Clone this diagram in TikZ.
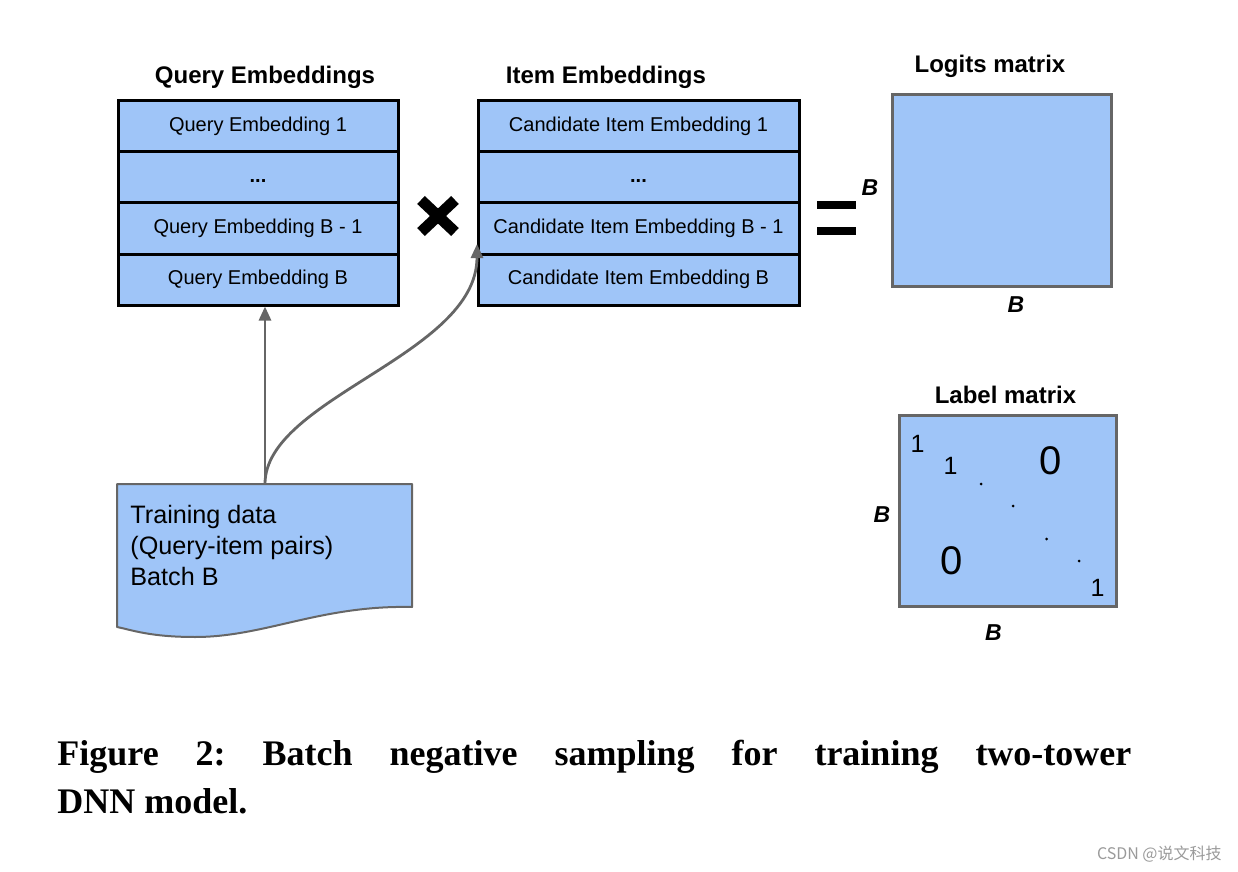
\documentclass[tikz,border=0pt]{standalone}
\usepackage{fontspec}
\setmainfont{Liberation Sans}
\newfontfamily\capfont{Liberation Serif}
\newfontfamily\cjkfont{Noto Sans CJK SC}
\usetikzlibrary{arrows.meta}
\definecolor{cellblue}{HTML}{9FC5F8}
\definecolor{edgegray}{HTML}{666666}
\definecolor{wmgray}{HTML}{9A9A9A}
\begin{document}
\begin{tikzpicture}[x=0.5pt,y=-0.5pt,
  cell/.style={draw=black, line width=1.5pt, inner sep=0, minimum height=25.5pt,
    font=\fontsize{10pt}{12pt}\selectfont},
  qcell/.style={cell, minimum width=140pt},
  icell/.style={cell, minimum width=160.5pt},
  towerfill/.style={fill=cellblue},
  title/.style={font=\bfseries\fontsize{12pt}{14pt}\selectfont, anchor=base, inner sep=0},
  blab/.style={font=\bfseries\itshape\fontsize{11.5pt}{13pt}\selectfont, anchor=base, inner sep=0},
  mat/.style={draw=edgegray, line width=1.5pt, fill=cellblue, inner sep=0},
  entry/.style={anchor=base, inner sep=0, font=\fontsize{12.5pt}{14pt}\selectfont},
  bigentry/.style={anchor=base, inner sep=0, font=\fontsize{20pt}{24pt}\selectfont},
  flow/.style={draw=edgegray, line width=1.4pt, -{Triangle[length=7pt,width=6pt]}},
  doc/.style={draw=edgegray, line width=1pt, fill=cellblue, line join=round},
  times/.style={line width=5.5pt, black},
  eqbar/.style={fill=black},
  dotmark/.style={fill=black},
  captext/.style={anchor=base west, inner sep=0, font=\capfont\bfseries\fontsize{18pt}{22pt}\selectfont},
]
\useasboundingbox (0,0) rectangle (1238,872);

% Query tower
\fill[towerfill] (118,101) rectangle (398,305);
\node[qcell] (q1) at (258,126.5) {Query Embedding 1};
\node[qcell] (q2) at (258,177.5) {\vphantom{Qg}\textbf{...}};
\node[qcell] (q3) at (258,228.5) {Query Embedding B - 1};
\node[qcell] (q4) at (258,279.5) {Query Embedding B};
\node[title] (qt) at (265,84) {Query Embeddings};

% Item tower
\fill[towerfill] (478,101) rectangle (799,305);
\node[icell] (i1) at (638.5,126.5) {Candidate Item Embedding 1};
\node[icell] (i2) at (638.5,177.5) {\vphantom{Qg}\textbf{...}};
\node[icell] (i3) at (638.5,228.5) {Candidate Item Embedding B - 1};
\node[icell] (i4) at (638.5,279.5) {Candidate Item Embedding B};
\node[title] (it) at (606,84) {Item Embeddings};

% multiply sign
\draw[times] (421,200) -- (455,232);
\draw[times] (421,232) -- (455,200);

% equal sign
\fill[eqbar] (817,201) rectangle (856,209);
\fill[eqbar] (817,227) rectangle (856,235);

% Logits matrix
\node[mat, minimum width=109.5pt, minimum height=95.5pt] (logits) at (1001.5,190.5) {};
\node[title] (lt) at (990,73) {Logits matrix};
\node[blab] (lb1) at (870,196) {B};
\node[blab] (lb2) at (1016,312) {B};

% Label matrix
\node[mat, minimum width=108.5pt, minimum height=95.5pt] (labels) at (1008,511) {};
\node[title] (lm) at (1005.5,403) {Label matrix};
\node[blab] (mb1) at (882,522) {B};
\node[blab] (mb2) at (993.5,640) {B};
\node[entry] (e1) at (917.5,452) {1};
\node[entry] (e2) at (950.5,474) {1};
\node[bigentry] (z1) at (1051,474) {0};
\node[bigentry] (z2) at (952,574) {0};
\node[entry] (e3) at (1097.5,596) {1};
\fill[dotmark] (981,484) circle[radius=0.75pt];
\fill[dotmark] (1013,506) circle[radius=0.75pt];
\fill[dotmark] (1046.5,539) circle[radius=0.75pt];
\fill[dotmark] (1079,561) circle[radius=0.75pt];

% Training data document
\draw[doc] (117,484) -- (412,484) -- (412,607)
  .. controls (320,605) and (265,637) .. (195,637)
  .. controls (150,637) and (132,630) .. (117,627) -- cycle;
\node[anchor=base west, align=left, inner sep=0,
  font=\fontsize{12.6pt}{15.5pt}\selectfont] (dtext) at (130,585)
  {Training data\\(Query-item pairs)\\Batch B};
\coordinate (docTop) at (265,484);
\coordinate (itip) at (477,244);

% connectors
\draw[flow] (docTop) -- (docTop |- q4.south);
\draw[flow] (docTop) .. controls (265,398) and (477,355) .. (itip);

% caption
\node[captext] (cap1) at (57,765)
  {\frenchspacing\makebox[537pt][s]{Figure 2: Batch negative sampling for training two-tower}};
\node[captext] (cap2) at (57,813) {DNN model.};

% watermark
\node[anchor=base east, inner sep=0, text=wmgray, font=\cjkfont\fontsize{8pt}{10pt}\selectfont] (wm) at (1222,859)
  {CSDN @说文科技};
\end{tikzpicture}
\end{document}
